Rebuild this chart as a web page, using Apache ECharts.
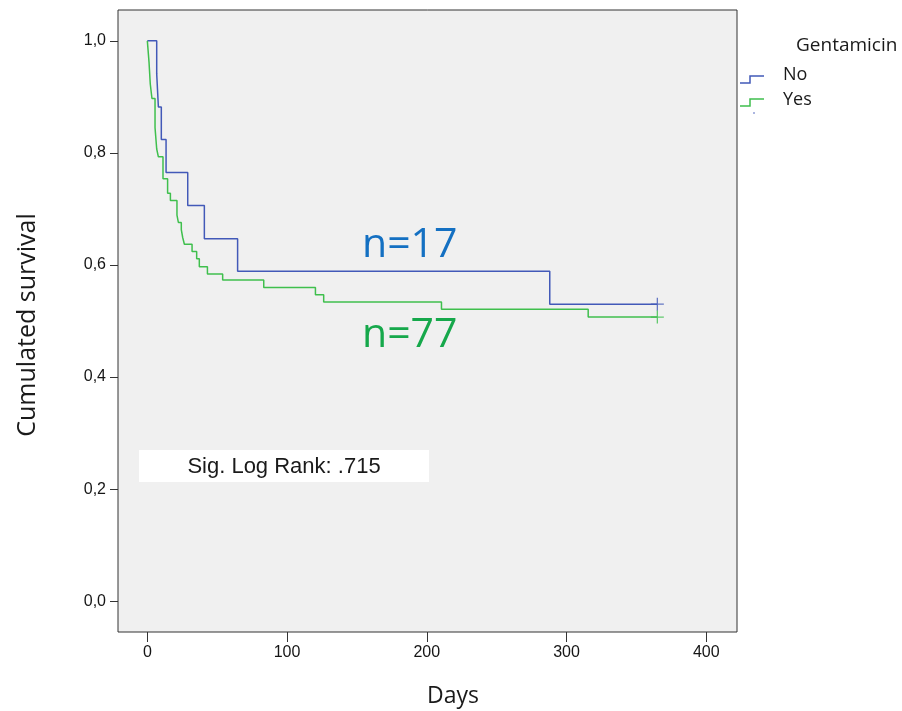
<!DOCTYPE html>
<html>
<head>
<meta charset="utf-8">
<title>Gentamicin survival</title>
<script src="https://cdn.jsdelivr.net/npm/echarts@6/dist/echarts.min.js"></script>
<style>
html,body{margin:0;padding:0;background:#fff;}
#table{width:902px;height:711px;}
</style>
</head>
<body>
<div id="table"></div>
<script>
// Kaplan-Meier steps (days, cumulated survival)
let noDays = [0, 6.7, 7.9, 10, 13.4, 28.9, 40.8, 64.6, 288, 365];
let noSurv = [1, 0.941, 0.882, 0.824, 0.765, 0.706, 0.647, 0.589, 0.530, 0.530];

let yesDays = [0, 1.2, 2.1, 3.3, 5.5, 6.7, 7.9, 11.2, 14.5, 16.5, 21.2, 22.2, 24.3, 25.3, 26.5,
    32, 35.3, 37.2, 43, 53.9, 83.3, 120.3, 126.2, 210.5, 315.5, 365];
let yesSurv = [1, 0.962, 0.923, 0.897, 0.845, 0.807, 0.793, 0.754, 0.728, 0.715, 0.689, 0.676, 0.663, 0.649, 0.637,
    0.624, 0.611, 0.597, 0.584, 0.573, 0.560, 0.547, 0.534, 0.521, 0.507, 0.507];

// censored at end of follow-up
let noCensorDays = [365];
let noCensorSurv = [0.530];
let yesCensorDays = [365];
let yesCensorSurv = [0.507];

let xTicks = [0, 100, 200, 300, 400];
let yTicks = [0, 0.2, 0.4, 0.6, 0.8, 1.0];

let pairs = (xs, ys) => xs.map((x, i) => [x, ys[i]]);

let blue = '#4259b8';
let green = '#3fbf4d';
let plusIcon = 'path://M45,0H55V45H100V55H55V100H45V55H0V45H45Z';

let myChart = echarts.init(document.getElementById('table'));
let option = {
    animation: false,
    backgroundColor: '#fff',
    textStyle: {fontFamily: 'Liberation Sans'},
    grid: {
        left: 118, top: 10, width: 619, height: 622,
        show: true, backgroundColor: '#f0f0f0', borderColor: '#333', borderWidth: 1
    },
    xAxis: {
        type: 'value', min: -21, max: 422,
        axisLine: {show: false, onZero: false},
        splitLine: {show: false},
        axisTick: {customValues: xTicks, length: 10, lineStyle: {color: '#333'}},
        axisLabel: {customValues: xTicks, margin: 13, fontSize: 16, color: '#151515'}
    },
    yAxis: {
        type: 'value', min: -0.055, max: 1.055,
        axisLine: {show: false, onZero: false},
        splitLine: {show: false},
        axisTick: {customValues: yTicks, length: 8, lineStyle: {color: '#333'}},
        axisLabel: {
            customValues: yTicks, margin: 12, fontSize: 16, color: '#151515',
            formatter: (v) => v.toFixed(1).replace('.', ',')
        }
    },
    series: [
        {
            name: 'No', type: 'line', step: 'end', showSymbol: false,
            data: pairs(noDays, noSurv),
            lineStyle: {color: blue, width: 1.5}, itemStyle: {color: blue}
        },
        {
            name: 'Yes', type: 'line', step: 'end', showSymbol: false,
            data: pairs(yesDays, yesSurv),
            lineStyle: {color: green, width: 1.5}, itemStyle: {color: green}
        },
        {
            name: 'No censored', type: 'scatter', symbol: plusIcon, symbolSize: 13,
            data: pairs(noCensorDays, noCensorSurv), itemStyle: {color: blue}
        },
        {
            name: 'Yes censored', type: 'scatter', symbol: plusIcon, symbolSize: 13,
            data: pairs(yesCensorDays, yesCensorSurv), itemStyle: {color: green}
        }
    ],
    graphic: [
        // log rank box
        {type: 'rect', shape: {x: 139, y: 450, width: 290, height: 32}, style: {fill: '#fff'}},
        {type: 'text', x: 284, y: 467, style: {
            text: 'Sig. Log Rank: .715', align: 'center', verticalAlign: 'middle',
            fontSize: 22, fontFamily: 'Liberation Sans', fill: '#1a1a1a'}},
        // group sizes
        {type: 'text', x: 362, y: 245, style: {
            text: 'n=17', align: 'left', verticalAlign: 'middle',
            fontSize: 41, fontFamily: 'Open Sans', fill: '#1470c2'}},
        {type: 'text', x: 362, y: 335, style: {
            text: 'n=77', align: 'left', verticalAlign: 'middle',
            fontSize: 41, fontFamily: 'Open Sans', fill: '#16a84b'}},
        // axis titles
        {type: 'text', x: 28, y: 325, rotation: Math.PI / 2, style: {
            text: 'Cumulated survival', align: 'center', verticalAlign: 'middle',
            fontSize: 25, fontFamily: 'Open Sans', fill: '#1a1a1a'}},
        {type: 'text', x: 453, y: 696, style: {
            text: 'Days', align: 'center', verticalAlign: 'middle',
            fontSize: 23, fontFamily: 'Open Sans', fill: '#1a1a1a'}},
        // legend
        {type: 'text', x: 796, y: 46, style: {
            text: 'Gentamicin', align: 'left', verticalAlign: 'middle',
            fontSize: 19, fontFamily: 'Open Sans', fill: '#1a1a1a'}},
        {type: 'polyline', shape: {points: [[740, 83], [750, 83], [750, 76], [764, 76]]},
            style: {stroke: blue, lineWidth: 1.5, fill: null}},
        {type: 'polyline', shape: {points: [[740, 106], [750, 106], [750, 99], [764, 99]]},
            style: {stroke: green, lineWidth: 1.5, fill: null}},
        {type: 'circle', shape: {cx: 754, cy: 113, r: 0.8}, style: {fill: blue}},
        {type: 'text', x: 783, y: 75, style: {
            text: 'No', align: 'left', verticalAlign: 'middle',
            fontSize: 18, fontFamily: 'Open Sans', fill: '#1a1a1a'}},
        {type: 'text', x: 783, y: 100, style: {
            text: 'Yes', align: 'left', verticalAlign: 'middle',
            fontSize: 18, fontFamily: 'Open Sans', fill: '#1a1a1a'}}
    ]
};
myChart.setOption(option);
</script>
</body>
</html>
